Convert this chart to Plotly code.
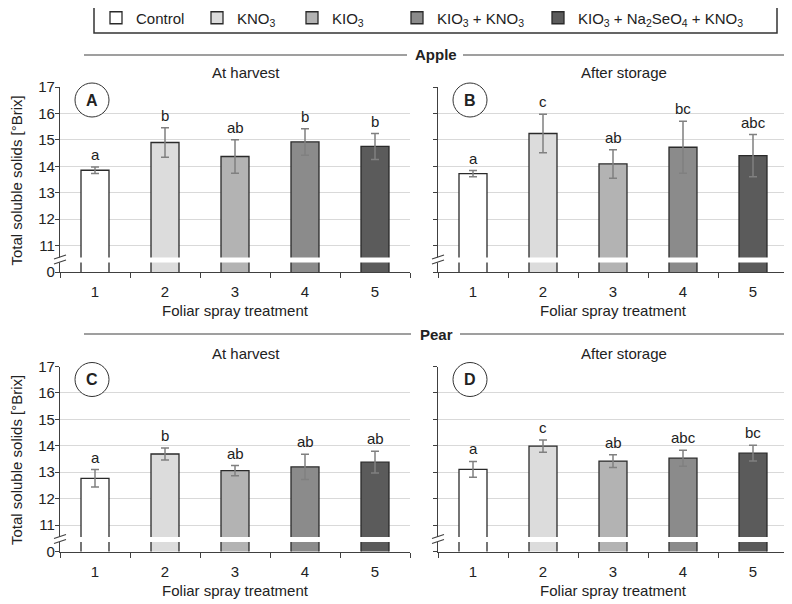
import plotly.graph_objects as go

# treatments 1-5, broken y axis (0 // 11-17)
treatments = ["1", "2", "3", "4", "5"]
names = ["Control", "KNO<sub>3</sub>", "KIO<sub>3</sub>", "KIO<sub>3</sub> + KNO<sub>3</sub>",
         "KIO<sub>3</sub> + Na<sub>2</sub>SeO<sub>4</sub> + KNO<sub>3</sub>"]
colors = ["#ffffff", "#dcdcdc", "#b3b3b3", "#8b8b8b", "#5b5b5b"]

apple_harvest = [13.85, 14.90, 14.37, 14.92, 14.75]
apple_harvest_err = [0.12, 0.56, 0.63, 0.50, 0.49]
apple_harvest_sig = ["a", "b", "ab", "b", "b"]

apple_storage = [13.72, 15.24, 14.09, 14.72, 14.40]
apple_storage_err = [0.12, 0.73, 0.54, 0.98, 0.80]
apple_storage_sig = ["a", "c", "ab", "bc", "abc"]

pear_harvest = [12.77, 13.69, 13.06, 13.20, 13.38]
pear_harvest_err = [0.33, 0.23, 0.19, 0.48, 0.41]
pear_harvest_sig = ["a", "b", "ab", "ab", "ab"]

pear_storage = [13.11, 13.99, 13.42, 13.53, 13.72]
pear_storage_err = [0.30, 0.23, 0.24, 0.30, 0.30]
pear_storage_sig = ["a", "c", "ab", "abc", "bc"]

y_ticks = [10, 11, 12, 13, 14, 15, 16, 17]
y_ticktext = ["0", "11", "12", "13", "14", "15", "16", "17"]

# page has an 8px body margin, so the figure is 8px smaller and positions are shifted
OFF = 8
W, H = 792 - OFF, 604 - OFF
FONT = "Liberation Sans, Arial, sans-serif"
TXT = "#222222"


def px(x):
    return (x - OFF) / W


def py(y):
    return 1 - (y - OFF) / H


# panel pixel boxes: (left, right, top(17), bottom(0))
panels = [
    ("A", "x", "y", 60, 410, 87, 272, apple_harvest, apple_harvest_err, apple_harvest_sig),
    ("B", "x2", "y2", 438, 788, 87, 272, apple_storage, apple_storage_err, apple_storage_sig),
    ("C", "x3", "y3", 60, 410, 366.5, 551.5, pear_harvest, pear_harvest_err, pear_harvest_sig),
    ("D", "x4", "y4", 438, 788, 366.5, 551.5, pear_storage, pear_storage_err, pear_storage_sig),
]

fig = go.Figure()
shapes = []
annotations = []

for i, (tag, xa, ya, l, r, t, b, vals, errs, sig) in enumerate(panels):
    for j in range(len(treatments)):
        fig.add_trace(go.Bar(
            x=[treatments[j]], y=[vals[j]], width=0.4,
            error_y=dict(type="data", array=[errs[j]], color="#808080", thickness=1.5, width=4),
            marker=dict(color=colors[j], line=dict(color="#2a2a2a", width=1.3)),
            name=names[j], showlegend=(i == 0),
            legend="legend" if j == 0 else "legend%d" % (j + 1),
            xaxis=xa, yaxis=ya,
        ))
        # letters above the error bars (category index j)
        annotations.append(dict(x=j, y=vals[j] + errs[j], xref=xa, yref=ya,
                                text=sig[j], showarrow=False, yanchor="bottom", yshift=2,
                                font=dict(size=15, color=TXT, family=FONT)))

    n = "" if i == 0 else str(i + 1)
    fig.layout["xaxis" + n] = dict(
        domain=[px(l), px(r)], anchor=ya, type="category", categoryarray=treatments,
        range=[-0.5, 4.5],
        showline=True, linecolor="#404040", linewidth=1.2, ticks="outside", ticklen=5,
        tickcolor="#404040", tickson="boundaries", showgrid=False, ticklabelstandoff=6,
        tickfont=dict(size=15, color=TXT), title=dict(text="Foliar spray treatment", font=dict(size=15, color=TXT), standoff=6),
    )
    fig.layout["yaxis" + n] = dict(
        domain=[py(b), py(t)], anchor=xa, range=[10, 17], tickvals=y_ticks, ticktext=y_ticktext,
        showline=True, linecolor="#404040", linewidth=1.2, ticks="outside", ticklen=4,
        tickcolor="#404040", gridcolor="#d9d9d9", gridwidth=1, zeroline=False, ticklabelstandoff=-3,
        showticklabels=(tag in "AC"), tickfont=dict(size=15, color=TXT),
    )
    if tag in "AC":
        # y title sits closer to the page edge than the axis title allows
        annotations.append(dict(x=px(16), y=py((t + b) / 2 + 1), xref="paper", yref="paper",
                                text="Total soluble solids [°Brix]", textangle=-90, showarrow=False,
                                xanchor="center", yanchor="middle", font=dict(size=15, color=TXT, family=FONT)))

    # axis break: white gap through bars and axis, plus two slashes
    unit = (b - t) / 7.0
    g_lo = b - 0.36 * unit
    g_hi = b - 0.55 * unit
    shapes.append(dict(type="rect", xref="paper", yref="paper", x0=px(l - 3), x1=px(r), y0=py(g_lo), y1=py(g_hi),
                       fillcolor="white", line=dict(width=0), layer="above"))
    for yy in (g_lo + 1.5, g_hi + 1.5):
        shapes.append(dict(type="line", xref="paper", yref="paper", x0=px(l - 6), x1=px(l + 6),
                           y0=py(yy), y1=py(yy - 4), line=dict(color="#404040", width=1.2), layer="above"))

    # circled panel letter
    cx, cy, rr = l + 32, t + 13, 17
    shapes.append(dict(type="circle", xref="paper", yref="paper", x0=px(cx - rr), x1=px(cx + rr),
                       y0=py(cy + rr), y1=py(cy - rr), fillcolor="white", line=dict(color="#333333", width=1),
                       layer="above"))
    annotations.append(dict(x=px(cx), y=py(cy), xref="paper", yref="paper", text="<b>%s</b>" % tag,
                            xanchor="center", yanchor="middle", showarrow=False,
                            font=dict(size=16, color=TXT, family=FONT)))

# sub titles
for xc, yc, txt in [(246, 73, "At harvest"), (624, 73, "After storage"),
                    (246, 353, "At harvest"), (624, 353, "After storage")]:
    annotations.append(dict(x=px(xc), y=py(yc), xref="paper", yref="paper", text=txt, showarrow=False,
                            xanchor="center", yanchor="middle", font=dict(size=15, color=TXT, family=FONT)))

# fruit headers with rule lines
for yc, txt, g0, g1 in [(55, "Apple", 407, 463), (334, "Pear", 411, 460)]:
    annotations.append(dict(x=px(436), y=py(yc), xref="paper", yref="paper", text="<b>%s</b>" % txt,
                            xanchor="center", yanchor="middle", showarrow=False,
                            font=dict(size=15, color=TXT, family=FONT)))
    for x0, x1 in [(84, g0), (g1, 785)]:
        shapes.append(dict(type="line", xref="paper", yref="paper", x0=px(x0), x1=px(x1), y0=py(yc), y1=py(yc),
                           line=dict(color="#404040", width=1.2)))

# legend frame
shapes.append(dict(type="rect", xref="paper", yref="paper", x0=px(94), x1=px(777), y0=py(33), y1=py(3),
                   line=dict(color="#333333", width=1.5), fillcolor="rgba(0,0,0,0)"))

legend_x = [96, 197, 292, 397, 538]
legend_common = dict(orientation="h", yanchor="middle", xanchor="left", bgcolor="rgba(0,0,0,0)",
                     borderwidth=0, font=dict(size=15, color=TXT, family=FONT))
for j, lx in enumerate(legend_x):
    key = "legend" if j == 0 else "legend%d" % (j + 1)
    fig.layout[key] = dict(x=px(lx), y=py(18), **legend_common)

fig.update_layout(
    width=W, height=H, margin=dict(l=0, r=0, t=0, b=0, autoexpand=False),
    paper_bgcolor="white", plot_bgcolor="white", barmode="overlay",
    font=dict(family=FONT, size=15, color=TXT),
    shapes=shapes, annotations=annotations,
)

fig.write_html("out.html")
